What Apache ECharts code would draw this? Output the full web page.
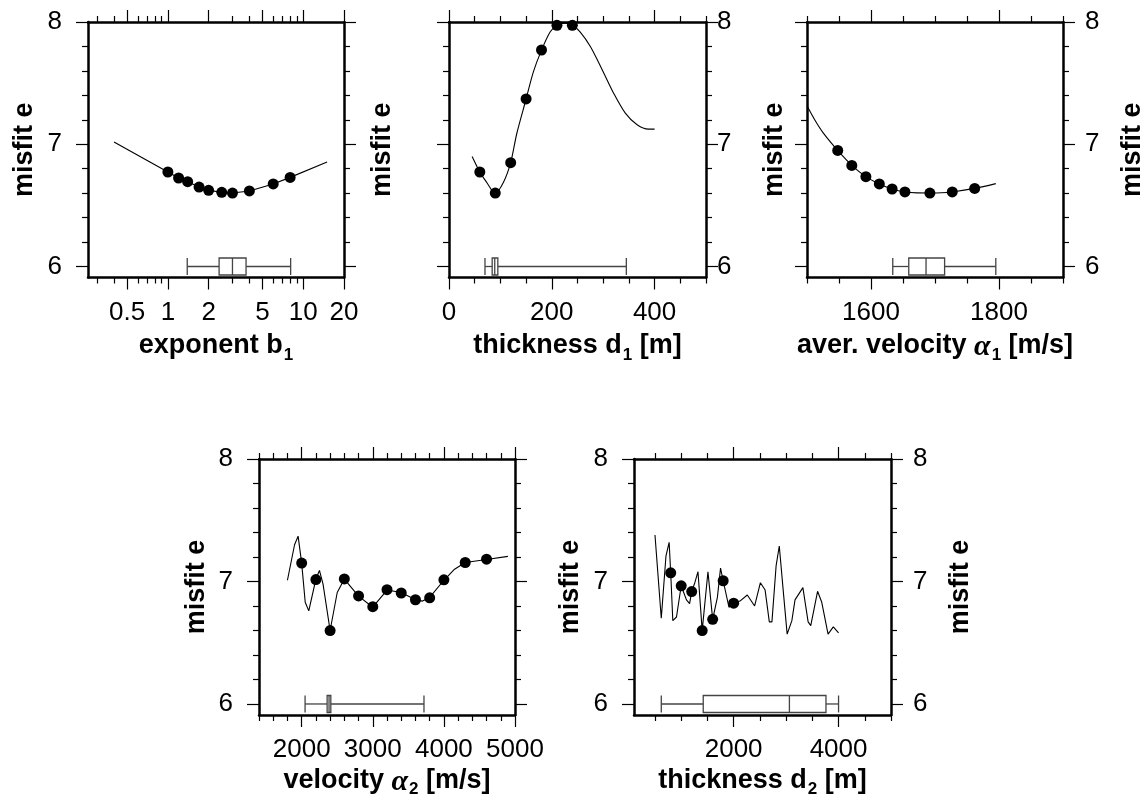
<!DOCTYPE html>
<html>
<head>
<meta charset="utf-8">
<script src="https://cdn.jsdelivr.net/npm/echarts@6/dist/echarts.min.js"></script>
<style>html,body{margin:0;padding:0;background:#fff;}#c{width:1148px;height:805px;}</style>
</head>
<body>
<div id="c"></div>
<script>
// ---------------- data ----------------
const yMajorTicks = [6, 7, 8];
const yMinorTicks = [6.2, 6.4, 6.6, 6.8, 7.2, 7.4, 7.6, 7.8];

// Panel 1: exponent b1 (log axis)
const b1TickLabels = [0.5, 1, 2, 5, 10, 20];
const b1MinorTicks = [0.3, 0.4, 0.6, 0.7, 0.8, 0.9, 3, 4, 6, 7, 8, 9];
const b1X = [1.0, 1.2, 1.4, 1.7, 2.0, 2.5, 3.0, 4.0, 6.0, 8.0];
const b1Y = [6.773, 6.724, 6.694, 6.650, 6.623, 6.607, 6.601, 6.618, 6.675, 6.729];
const b1CurveX = [0.4, 1.0, 1.2, 1.4, 1.7, 2.0, 2.5, 3.0, 4.0, 6.0, 8.0, 15];
const b1CurveY = [7.018, 6.773, 6.724, 6.694, 6.650, 6.623, 6.607, 6.601, 6.618, 6.675, 6.729, 6.855];
const b1Box = [1.39, 2.39, 3.0, 3.78, 8.07];

// Panel 2: thickness d1
const d1TickLabels = [0, 200, 400];
const d1MinorTicks = [50, 100, 150, 250, 300, 350, 450, 500];
const d1X = [60, 90, 120, 150, 180, 210, 240];
const d1Y = [6.773, 6.601, 6.849, 7.371, 7.771, 7.973, 7.973];
const d1CurveX = [45, 60, 73, 90, 106, 120, 132, 150, 164, 180, 197, 210, 225, 240, 255, 275, 298, 320, 343, 366, 388, 400];
const d1CurveY = [6.90, 6.773, 6.69, 6.60, 6.69, 6.85, 7.09, 7.37, 7.59, 7.77, 7.92, 7.975, 7.99, 7.975, 7.92, 7.80, 7.61, 7.42, 7.255, 7.16, 7.124, 7.124];
const d1Box = [70, 84, 89, 95, 345];

// Panel 3: average velocity alpha1
const a1TickLabels = [1600, 1800];
const a1MinorTicks = [1500, 1550, 1650, 1700, 1750, 1850, 1900];
const a1X = [1548, 1570, 1592, 1613, 1633, 1653, 1692, 1727, 1762];
const a1Y = [6.949, 6.827, 6.735, 6.675, 6.634, 6.610, 6.601, 6.610, 6.639];
const a1CurveX = [1500, 1512, 1525, 1548, 1570, 1592, 1613, 1633, 1653, 1672, 1692, 1710, 1727, 1762, 1795];
const a1CurveY = [7.314, 7.20, 7.095, 6.949, 6.827, 6.735, 6.675, 6.634, 6.610, 6.602, 6.601, 6.603, 6.610, 6.639, 6.678];
const a1Box = [1634, 1659, 1686, 1715, 1795];

// Panel 4: velocity alpha2
const a2TickLabels = [2000, 3000, 4000, 5000];
const a2MinorTicks = [1400, 1600, 1800, 2200, 2400, 2600, 2800, 3200, 3400, 3600, 3800, 4200, 4400, 4600, 4800];
const a2X = [2000, 2200, 2400, 2600, 2800, 3000, 3200, 3400, 3600, 3800, 4000, 4300, 4600];
const a2Y = [7.150, 7.016, 6.599, 7.021, 6.882, 6.794, 6.933, 6.906, 6.851, 6.867, 7.014, 7.155, 7.182];
const a2CurveX = [1800, 1900, 1950, 2000, 2050, 2100, 2200, 2250, 2300, 2400, 2500, 2600, 2800, 3000, 3200, 3400, 3600, 3700, 3800, 4000, 4150, 4300, 4600, 4900];
const a2CurveY = [7.01, 7.30, 7.37, 7.15, 6.83, 6.76, 7.02, 7.09, 6.98, 6.60, 6.91, 7.02, 6.88, 6.79, 6.93, 6.91, 6.85, 6.84, 6.87, 7.01, 7.10, 7.155, 7.18, 7.205];
const a2Box = [2048, 2358, 2385, 2410, 3720];

// Panel 5: thickness d2
const d2TickLabels = [2000, 4000];
const d2MinorTicks = [500, 1000, 1500, 2500, 3000, 3500, 4500, 5000];
const d2X = [800, 1000, 1200, 1400, 1600, 1800, 2000];
const d2Y = [7.071, 6.965, 6.918, 6.599, 6.691, 7.006, 6.823];
const d2CurveX = [500, 620, 710, 770, 800, 840, 910, 1000, 1100, 1160, 1200, 1260, 1320, 1400, 1510, 1600, 1690, 1750, 1800, 1910, 2000, 2120, 2260, 2400, 2510, 2600, 2680, 2730, 2810, 2870, 2940, 3020, 3110, 3170, 3320, 3420, 3470, 3600, 3680, 3800, 3900, 4000];
const d2CurveY = [7.38, 6.70, 7.21, 7.32, 7.07, 6.68, 6.71, 6.965, 6.85, 6.82, 6.918, 6.99, 7.08, 6.599, 7.08, 6.691, 6.87, 7.11, 7.006, 6.79, 6.823, 6.84, 6.89, 6.80, 6.99, 6.93, 6.67, 6.67, 7.13, 7.29, 6.95, 6.57, 6.68, 6.85, 6.95, 6.67, 6.64, 6.92, 6.83, 6.57, 6.63, 6.58];
const d2Box = [620, 1420, 3063, 3760, 4000];

// ---------------- chart building ----------------
const FONT = "'Liberation Sans', Arial, Helvetica, sans-serif";
const Y_MIN = 5.91, Y_MAX = 8;
const grids = [], xAxes = [], yAxes = [], series = [];

const nameRich = {
  t: {fontSize: 27, fontWeight: 'bold', fontFamily: FONT, color: '#000', lineHeight: 27, verticalAlign: 'top'},
  s: {fontSize: 17, fontWeight: 'bold', fontFamily: FONT, color: '#000', lineHeight: 17, padding: [14, 0, 0, 1], verticalAlign: 'top'},
  g: {fontSize: 30, fontFamily: "'Liberation Serif', serif", fontStyle: 'italic', color: '#000', lineHeight: 27, verticalAlign: 'top'}
};

function axisPair(kind, gi, pos, min, max, majors, minors, label, nameCfg) {
  const arr = kind === 'x' ? xAxes : yAxes;
  const main = {
    gridIndex: gi, type: 'value', position: pos, min: min, max: max,
    splitLine: {show: false},
    axisLine: {show: true, onZero: false, lineStyle: {color: '#000', width: 2.5}},
    axisTick: {show: true, customValues: majors, length: 12, lineStyle: {color: '#000', width: 1.2}},
    axisLabel: label ? {
      show: true, customValues: label.values, formatter: label.fmt || (v => String(v)),
      margin: label.margin, fontSize: 26, fontFamily: FONT, color: '#000'
    } : {show: false}
  };
  if (nameCfg) {
    main.name = nameCfg.text;
    main.nameLocation = 'middle';
    main.nameGap = nameCfg.gap;
    main.nameTextStyle = {fontSize: 27, fontWeight: 'bold', fontFamily: FONT, color: '#000', rich: nameRich};
  }
  const mainIdx = arr.length;
  arr.push(main);
  arr.push({
    gridIndex: gi, type: 'value', position: pos, min: min, max: max,
    splitLine: {show: false},
    axisLine: {show: false, onZero: false},
    axisTick: {show: true, customValues: minors, length: 6, lineStyle: {color: '#000', width: 1.2}},
    axisLabel: {show: false}
  });
  return mainIdx;
}

function boxRender(params, api) {
  const yv = api.value(5);
  const p0 = api.coord([api.value(0), yv]);
  const p1 = api.coord([api.value(1), yv]);
  const p2 = api.coord([api.value(2), yv]);
  const p3 = api.coord([api.value(3), yv]);
  const p4 = api.coord([api.value(4), yv]);
  const h = 8.5, y = p0[1];
  const st = {stroke: '#444', lineWidth: 1.3, fill: null};
  return {
    type: 'group',
    children: [
      {type: 'line', shape: {x1: p0[0], y1: y, x2: p1[0], y2: y}, style: st},
      {type: 'line', shape: {x1: p3[0], y1: y, x2: p4[0], y2: y}, style: st},
      {type: 'line', shape: {x1: p0[0], y1: y - h, x2: p0[0], y2: y + h}, style: st},
      {type: 'line', shape: {x1: p4[0], y1: y - h, x2: p4[0], y2: y + h}, style: st},
      {type: 'rect', shape: {x: p1[0], y: y - h, width: p3[0] - p1[0], height: 2 * h}, style: {stroke: '#444', lineWidth: 1.3, fill: '#fff'}},
      {type: 'line', shape: {x1: p2[0], y1: y - h, x2: p2[0], y2: y + h}, style: st}
    ]
  };
}

function panel(cfg) {
  const gi = grids.length;
  grids.push({left: cfg.rect[0], top: cfg.rect[1], width: cfg.rect[2], height: cfg.rect[3],
              containLabel: false, outerBoundsMode: 'none'});
  const tx = cfg.tx || (v => v);
  const xMaj = cfg.xMajors.map(tx), xMin = cfg.xMinors.map(tx);
  const xi = axisPair('x', gi, 'bottom', tx(cfg.xmin), tx(cfg.xmax), xMaj, xMin,
    {values: xMaj, fmt: cfg.xfmt, margin: 22}, {text: cfg.xname, gap: cfg.xnameGap});
  axisPair('x', gi, 'top', tx(cfg.xmin), tx(cfg.xmax), xMaj, xMin, null, null);
  const yi = axisPair('y', gi, 'left', Y_MIN, Y_MAX, yMajorTicks, yMinorTicks,
    cfg.leftLabels ? {values: yMajorTicks, margin: 26} : null,
    cfg.leftName != null ? {text: 'misfit e', gap: cfg.leftName} : null);
  axisPair('y', gi, 'right', Y_MIN, Y_MAX, yMajorTicks, yMinorTicks,
    cfg.rightLabels != null ? {values: yMajorTicks, margin: cfg.rightLabels} : null,
    cfg.rightName != null ? {text: 'misfit e', gap: cfg.rightName} : null);

  series.push({
    type: 'line', xAxisIndex: xi, yAxisIndex: yi, showSymbol: false, symbol: 'none',
    smooth: cfg.smooth || false, silent: true, z: 2,
    lineStyle: {color: '#000', width: 1.1, opacity: 1},
    data: cfg.curveX.map((v, i) => [tx(v), cfg.curveY[i]])
  });
  series.push({
    type: 'scatter', xAxisIndex: xi, yAxisIndex: yi, symbol: 'circle', symbolSize: 11,
    itemStyle: {color: '#000', opacity: 1}, silent: true, z: 3,
    data: cfg.px.map((v, i) => [tx(v), cfg.py[i]])
  });
  series.push({
    type: 'custom', xAxisIndex: xi, yAxisIndex: yi, silent: true, z: 1,
    renderItem: boxRender, encode: {x: [0, 1, 2, 3, 4], y: 5},
    data: [cfg.box.map(tx).concat([6])]
  });
}

const log10 = v => Math.log10(v);

panel({
  rect: [88, 22, 256, 255.5], tx: log10, xmin: 0.257, xmax: 20,
  xMajors: b1TickLabels, xMinors: b1MinorTicks,
  xfmt: v => String(+Math.pow(10, v).toPrecision(2)),
  xname: '{t|exponent b}{s|1}', xnameGap: 55,
  leftLabels: true, leftName: 50, rightLabels: null, rightName: null,
  px: b1X, py: b1Y, curveX: b1CurveX, curveY: b1CurveY, box: b1Box
});
panel({
  rect: [449, 22, 257, 255.5], xmin: 0, xmax: 500,
  xMajors: d1TickLabels, xMinors: d1MinorTicks,
  xname: '{t|thickness d}{s|1}{t| [m]}', xnameGap: 55,
  leftLabels: false, leftName: 53, rightLabels: 11, rightName: null,
  px: d1X, py: d1Y, curveX: d1CurveX, curveY: d1CurveY, box: d1Box, smooth: 0.3
});
panel({
  rect: [807, 22, 256, 255.5], xmin: 1500, xmax: 1900,
  xMajors: a1TickLabels, xMinors: a1MinorTicks,
  xname: '{t|aver. velocity }{g|α}{s|1}{t| [m/s]}', xnameGap: 55,
  leftLabels: false, leftName: 19, rightLabels: 22, rightName: 56,
  px: a1X, py: a1Y, curveX: a1CurveX, curveY: a1CurveY, box: a1Box, smooth: 0.3
});
panel({
  rect: [259, 459, 256, 256], xmin: 1400, xmax: 5000,
  xMajors: a2TickLabels, xMinors: a2MinorTicks,
  xname: '{t|velocity }{g|α}{s|2}{t| [m/s]}', xnameGap: 52,
  leftLabels: true, leftName: 49, rightLabels: null, rightName: null,
  px: a2X, py: a2Y, curveX: a2CurveX, curveY: a2CurveY, box: a2Box
});
panel({
  rect: [634, 459, 257, 256], xmin: 100, xmax: 5000,
  xMajors: d2TickLabels, xMinors: d2MinorTicks,
  xname: '{t|thickness d}{s|2}{t| [m]}', xnameGap: 52,
  leftLabels: true, leftName: 50, rightLabels: 22, rightName: 56,
  px: d2X, py: d2Y, curveX: d2CurveX, curveY: d2CurveY, box: d2Box
});

const chart = echarts.init(document.getElementById('c'), null, {renderer: 'canvas'});
chart.setOption({
  animation: false,
  backgroundColor: '#fff',
  textStyle: {fontFamily: FONT},
  grid: grids, xAxis: xAxes, yAxis: yAxes, series: series
});
</script>
</body>
</html>
